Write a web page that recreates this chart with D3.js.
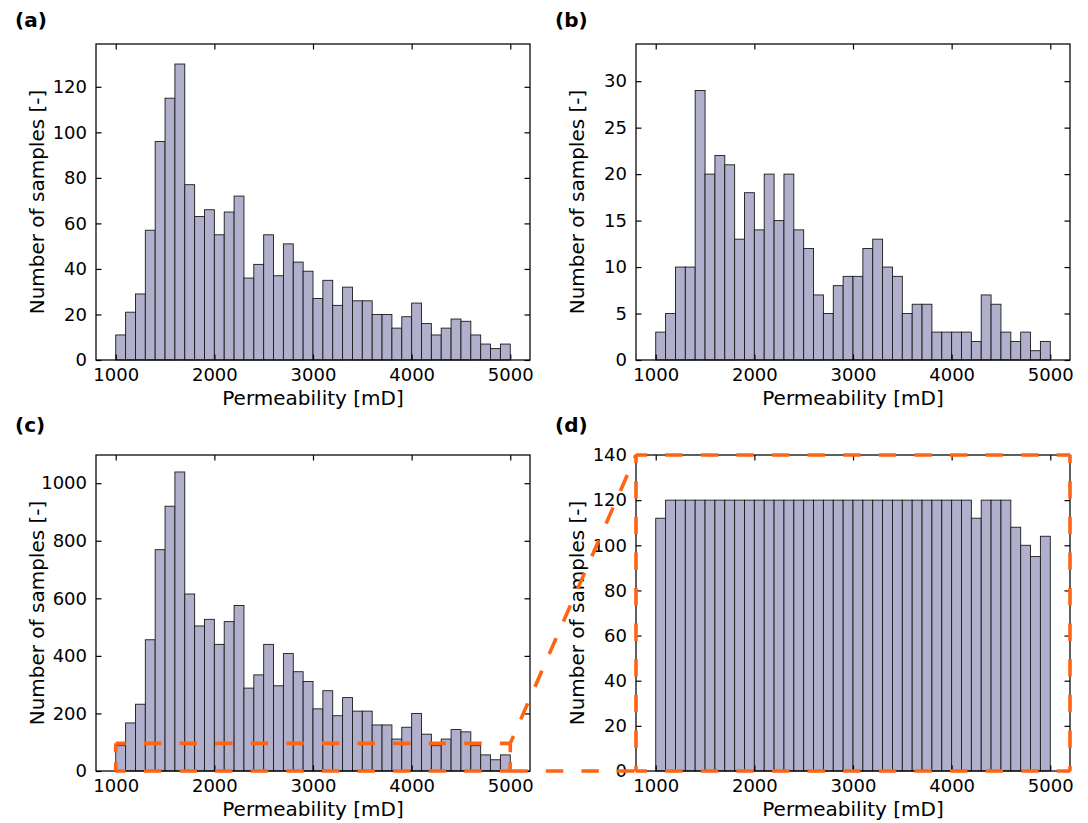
<!DOCTYPE html>
<html><head><meta charset="utf-8">
<script src="https://cdn.jsdelivr.net/npm/d3@7"></script>
<style>body{margin:0;background:#fff} svg{display:block} text{font-family:"DejaVu Sans",sans-serif}</style>
</head><body><svg id="chart" width="1088" height="823"></svg>
<script>
// ---- data ----
const binEdges = [1000,1100,1200,1300,1400,1500,1600,1700,1800,1900,2000,2100,2200,2300,2400,2500,2600,2700,2800,2900,3000,
                  3100,3200,3300,3400,3500,3600,3700,3800,3900,4000,4100,4200,4300,4400,4500,4600,4700,4800,4900,5000];
const countsA = [11,21,29,57,96,115,130,77,63,66,55,65,72,36,42,55,37,51,43,39,27,35,24,32,26,26,20,20,14,19,25,16,11,14,18,17,11,7,5,7];
const countsB = [3,5,10,10,29,20,22,21,13,18,14,20,15,20,14,12,7,5,8,9,9,12,13,10,9,5,6,6,3,3,3,3,2,7,6,3,2,3,1,2];
const countsC = [88,167,232,456,769,920,1039,615,504,527,440,519,575,288,334,440,296,408,345,311,216,279,192,255,208,208,160,160,111,152,200,128,88,111,144,136,88,56,39,56];
const countsD = [112,120,120,120,120,120,120,120,120,120,120,120,120,120,120,120,120,120,120,120,120,120,120,120,120,120,120,120,120,120,120,120,112,120,120,120,108,100,95,104];
const xTicks = [1000,2000,3000,4000,5000];
const yTicksA = [0,20,40,60,80,100,120];
const yTicksB = [0,5,10,15,20,25,30];
const yTicksC = [0,200,400,600,800,1000];
const yTicksD = [0,20,40,60,80,100,120,140];
const yLimits = [138.8, 34, 1098, 140];
const xLimits = [800, 5200];
const panelLabels = ["(a)","(b)","(c)","(d)"];
const xLabel = "Permeability [mD]";
const yLabel = "Number of samples [-]";
const zoomBox = [1000, 5000, 0, 96]; // region of (c) magnified in (d)

// ---- layout ----
const svg = d3.select("#chart");
const frames = [
  {l:96, r:530, t:44, b:360, lx:15, ly:27},
  {l:636, r:1070, t:44, b:360, lx:555, ly:27},
  {l:96, r:530, t:455, b:771, lx:15, ly:432},
  {l:636, r:1070, t:455, b:771, lx:555, ly:432}
];
const counts = [countsA, countsB, countsC, countsD];
const yTicks = [yTicksA, yTicksB, yTicksC, yTicksD];
const barFill = "#b0b0cc";
const orange = "#ff6414";
const scales = [];

frames.forEach((f, i) => {
  const x = d3.scaleLinear().domain(xLimits).range([f.l, f.r]);
  const y = d3.scaleLinear().domain([0, yLimits[i]]).range([f.b, f.t]);
  scales.push({x, y});
  const g = svg.append("g");
  const bins = counts[i].map((c, k) => ({x0: binEdges[k], x1: binEdges[k+1], c}));
  g.append("g").selectAll("rect").data(bins).join("rect")
    .attr("x", d => x(d.x0)).attr("width", d => x(d.x1) - x(d.x0))
    .attr("y", d => y(d.c)).attr("height", d => y(0) - y(d.c))
    .attr("fill", barFill).attr("stroke", "#1a1a1a").attr("stroke-width", 0.9);

  const styleAxis = (sel, labels) => {
    sel.select(".domain").remove();
    sel.selectAll(".tick line").attr("stroke", "#000").attr("stroke-width", 1.2);
    sel.selectAll(".tick text").attr("font-size", 18).attr("fill", "#000")
      .attr("font-family", "DejaVu Sans, sans-serif");
    if (!labels) sel.selectAll(".tick text").remove();
  };
  g.append("g").attr("transform", `translate(0,${f.b})`)
    .call(d3.axisBottom(x).tickValues(xTicks).tickSizeInner(-5.5).tickSizeOuter(0).tickPadding(8.5).tickFormat(d3.format("d")))
    .call(s => styleAxis(s, true));
  g.append("g").attr("transform", `translate(0,${f.t})`)
    .call(d3.axisTop(x).tickValues(xTicks).tickSizeInner(-5.5).tickSizeOuter(0))
    .call(s => styleAxis(s, false));
  g.append("g").attr("transform", `translate(${f.l},0)`)
    .call(d3.axisLeft(y).tickValues(yTicks[i]).tickSizeInner(-5.5).tickSizeOuter(0).tickPadding(9).tickFormat(d3.format("d")))
    .call(s => styleAxis(s, true));
  g.append("g").attr("transform", `translate(${f.r},0)`)
    .call(d3.axisRight(y).tickValues(yTicks[i]).tickSizeInner(-5.5).tickSizeOuter(0))
    .call(s => styleAxis(s, false));

  g.append("rect").attr("x", f.l).attr("y", f.t).attr("width", f.r - f.l).attr("height", f.b - f.t)
    .attr("fill", "none").attr("stroke", "#000").attr("stroke-width", 1.25);

  g.append("text").attr("x", (f.l + f.r) / 2).attr("y", f.b + 45).attr("text-anchor", "middle")
    .attr("font-size", 20).text(xLabel);
  g.append("text").attr("transform", `translate(${f.l - 52.5},${(f.t + f.b) / 2}) rotate(-90)`)
    .attr("text-anchor", "middle").attr("font-size", 20).text(yLabel);
  g.append("text").attr("x", f.lx).attr("y", f.ly).attr("font-size", 20).attr("font-weight", "bold")
    .text(panelLabels[i]);
});

// ---- orange zoom indicators ----
const o = svg.append("g").attr("fill", "none").attr("stroke", orange).attr("stroke-width", 3.6)
  .attr("stroke-linecap", "butt");
const sc = scales[2];
const bx0 = sc.x(zoomBox[0]), bx1 = sc.x(zoomBox[1]), by0 = sc.y(zoomBox[2]), by1 = sc.y(zoomBox[3]);
const seg = (x1, y1, x2, y2, dash, off) =>
  o.append("line").attr("x1", x1).attr("y1", y1).attr("x2", x2).attr("y2", y2)
   .attr("stroke-dasharray", dash).attr("stroke-dashoffset", off);
// box in (c)
seg(bx0, by1, bx1, by1, "17.4,18.2", 7.4);
seg(bx0, by0, bx1, by0, "17.4,18.2", 7.4);
seg(bx0, by1, bx0, by0, "9,10", 0);
seg(bx1, by1, bx1, by0, "9,10", 0);
// frame of (d)
const fd = frames[3];
seg(fd.l, fd.t, fd.r, fd.t, "17.4,18.2", 6.4);
seg(fd.l, fd.b, fd.r, fd.b, "17.4,18.2", 6.4);
seg(fd.l, fd.t, fd.l, fd.b, "17.4,18.2", 9.4);
seg(fd.r, fd.t, fd.r, fd.b, "17.4,18.2", 9.4);
// connectors
seg(bx1, by1, fd.l, fd.t, "17.4,18.2", 9.4);
seg(bx1, by0, fd.l, fd.b, "17.4,18.2", 0);
</script></body></html>
